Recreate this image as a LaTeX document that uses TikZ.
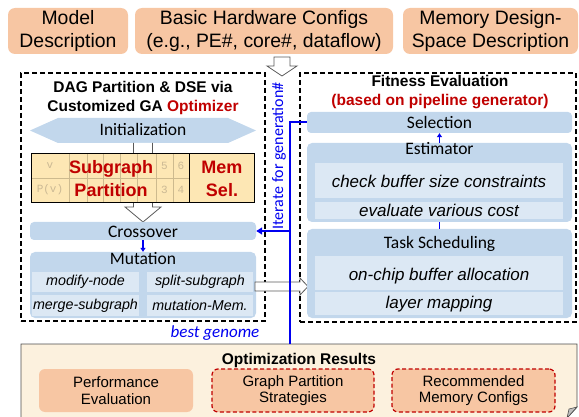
\documentclass[tikz,border=0pt]{standalone}
\usepackage{fontspec}
\setmainfont{Liberation Sans}
\newfontfamily\calib{Carlito}
\newfontfamily\genefont{Liberation Mono}
\usetikzlibrary{arrows.meta}
\definecolor{peach}{HTML}{F7C6A3}
\definecolor{lblue}{HTML}{C2D7EC}
\definecolor{cellblue}{HTML}{DCE8F4}
\definecolor{optred}{HTML}{C00000}
\definecolor{itblue}{HTML}{0000F0}
\definecolor{genefill}{HTML}{FDE7B4}
\definecolor{geneline}{HTML}{CDBA8E}
\definecolor{genetext}{HTML}{CBB994}
\definecolor{cream}{HTML}{FCF1DE}
\definecolor{hollowgray}{HTML}{5A5A5A}
\newcommand{\fsz}[2]{\fontsize{#1}{#2}\selectfont}

\begin{document}
\begin{tikzpicture}[x=1pt,y=-1pt,
  topbox/.style={fill=peach,rounded corners=7pt,inner sep=0pt,align=center,font=\fsz{19.4}{23}},
  resbox/.style={fill=peach,rounded corners=6pt,inner sep=0pt,align=center,font=\fsz{15}{16.5}},
  resdash/.style={resbox,draw=optred,line width=1.2pt,dash pattern=on 4pt off 2.5pt},
  dashbox/.style={draw=black,line width=1.2pt,dash pattern=on 5pt off 3pt,inner sep=0pt},
  stagebox/.style={fill=lblue,rounded corners=4pt,inner sep=0pt},
  cellbox/.style={fill=cellblue,inner sep=0pt},
  lbl/.style={font=\calib\fsz{17.5}{20},inner sep=0pt,anchor=base},
  item/.style={font=\itshape\fsz{17}{20},inner sep=0pt,anchor=base},
  mitem/.style={font=\itshape\fsz{14.3}{17}},
  title/.style={font=\bfseries\fsz{15.5}{18},inner sep=0pt,anchor=base},
  hollow/.style={draw=hollowgray,fill=white,line width=0.8pt,line join=miter},
  flow/.style={draw=itblue,line width=1.3pt,-{Triangle[length=4pt,width=5pt]}},
  iter/.style={draw=itblue,line width=2pt},
  gene/.style={font=\genefont\fsz{11}{12},text=genetext,inner sep=0pt},
  redbold/.style={font=\bfseries\fsz{18}{23},text=optred,inner sep=0pt,anchor=base},
]
\useasboundingbox (0,0) rectangle (579,417);

% inputs
\node[topbox,minimum width=120pt,minimum height=46pt] (model) at (68,31) {Model\\Description};
\node[topbox,minimum width=258pt,minimum height=46pt] (hwcfg) at (264,31) {Basic Hardware Configs\\(e.g., PE\#, core\#, dataflow)};
\node[topbox,minimum width=175pt,minimum height=46pt] (memds) at (490.5,31) {Memory Design-\\Space Description};

% the two stages
\node[dashbox,minimum width=244pt,minimum height=248pt] (gaframe) at (143,197) {};
\node[dashbox,minimum width=276pt,minimum height=249pt] (fitframe) at (438,197.5) {};

% inputs feed the optimizer
\draw[hollow] (274,57) -- (274,66) -- (267,66) -- (282,76) -- (297,66) -- (290,66) -- (290,57) -- cycle;

% ---------- GA optimizer ----------
\node[title] (gatitle) at (143,93) {DAG Partition \& DSE via};
\node[title] (gatitle2) at (143,112) {Customized GA \textcolor{optred}{Optimizer}};

\fill[lblue] (30,130.5) -- (58,118) -- (228,118) -- (256,130.5) -- (228,143) -- (58,143) -- cycle;
\node[lbl] (init) at (143,136) {Initialization};

% population flows down to crossover
\fill[white] (133.5,143) -- (133.5,207) -- (125,207) -- (143,222) -- (161,207) -- (152.5,207) -- (152.5,143) -- cycle;
\draw[draw=hollowgray,line width=0.8pt,line join=miter] (133.5,143) -- (133.5,207) -- (125,207) -- (143,222) -- (161,207) -- (152.5,207) -- (152.5,143);

% genome encoding
\node[fill=genefill,minimum width=222pt,minimum height=48pt,inner sep=0pt] (genome) at (143,178) {};
\foreach \gx in {69,87,103,120,137,156,173}
  \draw[geneline,line width=0.8pt] (\gx,154) -- (\gx,202);
\draw[geneline,line width=0.8pt] (32,178) -- (189,178);
\node[gene] at (50,166) {v};
\node[gene] at (50,190) {P(v)};
\node[gene] at (164.5,166) {5};
\node[gene] at (181,166) {6};
\node[gene] at (164.5,190) {3};
\node[gene] at (181,190) {4};
\draw[black,line width=0.9pt] (189,154) -- (189,202);
\draw[black,line width=0.9pt] (genome.north west) rectangle (genome.south east);
\node[redbold] at (111,174) {Subgraph};
\node[redbold] at (111,197) {Partition};
\node[redbold] at (222,174) {Mem};
\node[redbold] at (222,197) {Sel.};

\node[stagebox,minimum width=226pt,minimum height=18pt] (cross) at (143,231) {};
\node[lbl] at (143,237) {Crossover};

\node[stagebox,rounded corners=5pt,minimum width=226pt,minimum height=66pt] (mut) at (143,285) {};
\node[lbl] at (143,264.5) {Mutation};
\node[cellbox,mitem,minimum width=107pt,minimum height=20pt] (mnode) at (85.5,282) {modify-node};
\node[cellbox,mitem,minimum width=106pt,minimum height=20pt] (msplit) at (200,282) {split-subgraph};
\node[cellbox,mitem,minimum width=107pt,minimum height=21pt] (mmerge) at (85.5,305.5) {merge-subgraph};
\node[cellbox,mitem,minimum width=106pt,minimum height=21pt] (mmem) at (200,305.5) {mutation-Mem.};

\draw[flow] (cross.south) -- (mut.north);

% candidates go to fitness evaluation
\draw[hollow] (255,282) -- (300,282) -- (300,278) -- (308,286.5) -- (300,295) -- (300,291) -- (255,291) -- cycle;

% ---------- fitness evaluation ----------
\node[title] (fittitle) at (440,87) {Fitness Evaluation};
\node[title,text=optred] (fittitle2) at (440,106) {(based on pipeline generator)};

\node[stagebox,minimum width=265pt,minimum height=21pt] (sel) at (439.5,122.5) {};
\node[lbl] at (439.5,128.5) {Selection};

\node[stagebox,rounded corners=5pt,minimum width=265pt,minimum height=79pt] (est) at (439.5,182.5) {};
\node[lbl] at (439.5,155) {Estimator};
\node[cellbox,minimum width=248pt,minimum height=35pt] (chk) at (439,180.5) {};
\node[item] at (439,188) {check buffer size constraints};
\node[cellbox,minimum width=248pt,minimum height=17pt] (evl) at (439,210.5) {};
\node[item] at (439,217) {evaluate various cost};

\node[stagebox,rounded corners=5pt,minimum width=265pt,minimum height=89pt] (task) at (439.5,273.5) {};
\node[lbl] at (439.5,248) {Task Scheduling};
\node[cellbox,minimum width=248pt,minimum height=34pt] (buf) at (439,273) {};
\node[item] at (439,280) {on-chip buffer allocation};
\node[cellbox,minimum width=248pt,minimum height=23pt] (lmap) at (439,303.5) {};
\node[item] at (439,308) {layer mapping};

\draw[flow] (est.north) -- (sel.south);
\draw[itblue,line width=1.3pt] (task.north) -- (est.south);

% ---------- results ----------
\fill[cream] (21,344) -- (577,344) -- (577,407) -- (567,418) -- (21,418) -- cycle;
\draw[black!70,line width=0.8pt] (21,418) -- (21,344) -- (577,344) -- (577,407) -- (567,418);
\filldraw[fill=black!25,draw=black!70,line width=0.6pt] (567,418) -- (569,409) -- (577,407) -- cycle;
\coordinate (opttop) at (290,344);

\node[title] (opttitle) at (299,364) {Optimization Results};
\node[resbox,minimum width=154pt,minimum height=43pt] (perf) at (116,390.5) {Performance\\Evaluation};
\node[resdash,minimum width=162pt,minimum height=43pt] (gps) at (293,390.5) {Graph Partition\\Strategies};
\node[resdash,minimum width=163pt,minimum height=43pt] (rmc) at (473.5,390.5) {Recommended\\Memory Configs};

% ---------- generation loop ----------
\draw[iter] (sel.west) -- (sel.west -| opttop) -- (opttop);
\draw[iter,-{Triangle[length=6pt,width=7pt]}] (cross.east -| opttop) -- (cross.east);
\node[font=\calib\fsz{16}{18},text=itblue,rotate=90,inner sep=0pt] (itlbl) at (279,156) {Iterate for generation\#};
\node[font=\calib\itshape\fsz{17}{20},text=itblue,inner sep=0pt,anchor=base] (best) at (215,337) {best genome};
\end{tikzpicture}
\end{document}
